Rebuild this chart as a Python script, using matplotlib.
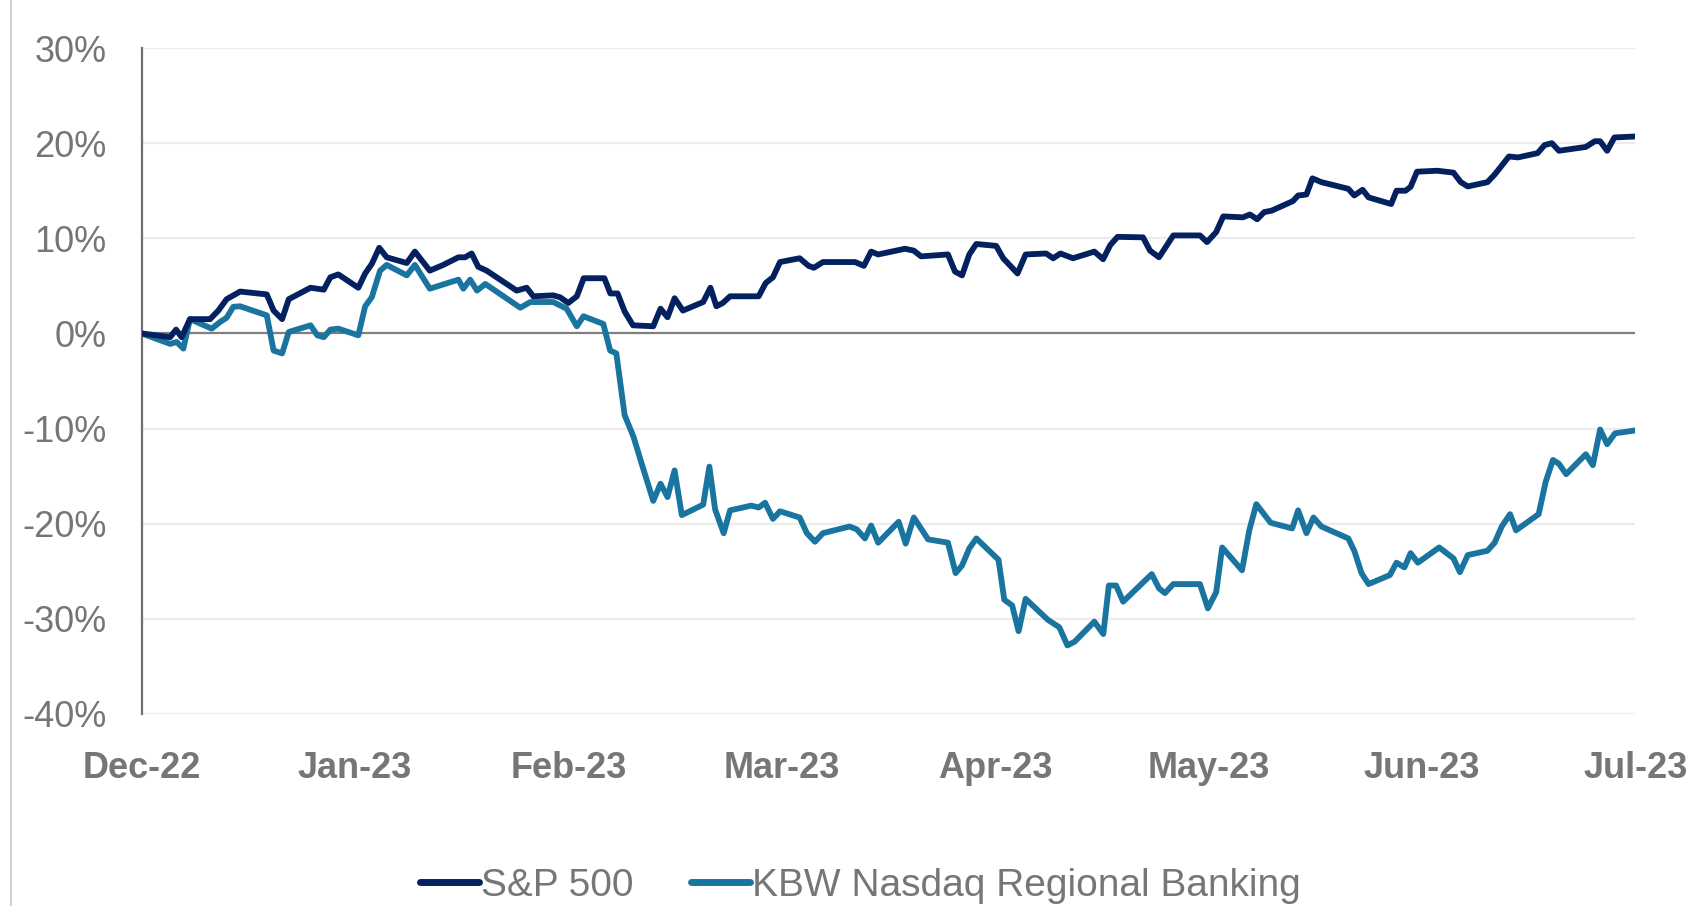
import matplotlib
matplotlib.use('Agg')
import matplotlib.pyplot as plt
from matplotlib.lines import Line2D

# x = months since Dec-22 (0 = Dec-22, 7 = Jul-23), y = cumulative return in %
months = ['Dec-22', 'Jan-23', 'Feb-23', 'Mar-23', 'Apr-23', 'May-23', 'Jun-23', 'Jul-23']

sp_x = [0, 0.134, 0.162, 0.188, 0.227, 0.321, 0.36, 0.399, 0.462, 0.587, 0.619, 0.659, 0.69,
        0.792, 0.854, 0.885, 0.922, 1.016, 1.048, 1.079, 1.114, 1.149, 1.243, 1.281, 1.351,
        1.414, 1.485, 1.516, 1.547, 1.578, 1.617, 1.758, 1.805, 1.836, 1.929, 1.961, 2.0,
        2.04, 2.072, 2.169, 2.197, 2.231, 2.264, 2.303, 2.398, 2.432, 2.465, 2.498, 2.537,
        2.632, 2.666, 2.694, 2.724, 2.758, 2.892, 2.925, 2.959, 2.992, 3.084, 3.126, 3.151,
        3.193, 3.344, 3.385, 3.419, 3.452, 3.578, 3.619, 3.653, 3.779, 3.812, 3.845, 3.879,
        3.912, 4.005, 4.038, 4.105, 4.143, 4.239, 4.272, 4.306, 4.365, 4.465, 4.506, 4.54,
        4.574, 4.693, 4.726, 4.768, 4.835, 4.96, 4.993, 5.036, 5.069, 5.161, 5.194, 5.228,
        5.261, 5.295, 5.395, 5.42, 5.459, 5.487, 5.529, 5.655, 5.683, 5.722, 5.75, 5.856,
        5.881, 5.923, 5.947, 5.977, 6.073, 6.148, 6.182, 6.215, 6.307, 6.341, 6.408, 6.45,
        6.542, 6.575, 6.609, 6.642, 6.768, 6.81, 6.835, 6.868, 6.902, 7.0]
sp_y = [0, -0.4, 0.4, -0.4, 1.5, 1.5, 2.4, 3.6, 4.4, 4.1, 2.4, 1.5, 3.6,
        4.8, 4.6, 5.9, 6.2, 4.8, 6.3, 7.3, 9.0, 8.0, 7.4, 8.6, 6.6,
        7.2, 8.0, 8.0, 8.4, 7.0, 6.6, 4.5, 4.8, 3.9, 4.0, 3.8, 3.2,
        3.9, 5.8, 5.8, 4.2, 4.2, 2.3, 0.85, 0.75, 2.6, 1.7, 3.7, 2.4,
        3.3, 4.8, 2.85, 3.2, 3.9, 3.9, 5.3, 5.9, 7.5, 7.9, 7.1, 6.9,
        7.5, 7.5, 7.1, 8.6, 8.3, 8.9, 8.7, 8.1, 8.3, 6.5, 6.1, 8.3,
        9.4, 9.2, 7.9, 6.3, 8.3, 8.4, 7.9, 8.4, 7.9, 8.6, 7.8, 9.3,
        10.15, 10.1, 8.7, 8.0, 10.3, 10.3, 9.6, 10.65, 12.3, 12.2, 12.5, 12.0,
        12.75, 12.9, 13.9, 14.5, 14.6, 16.3, 15.9, 15.2, 14.5, 15.1, 14.3, 13.6,
        15.0, 15.0, 15.4, 17.0, 17.1, 16.9, 15.9, 15.45, 15.9, 16.7, 18.6, 18.5,
        18.95, 19.8, 20.0, 19.2, 19.6, 20.2, 20.2, 19.2, 20.6, 20.7]

kbw_x = [0, 0.134, 0.165, 0.196, 0.227, 0.329, 0.368, 0.399, 0.43, 0.462, 0.587, 0.619,
         0.659, 0.69, 0.792, 0.824, 0.854, 0.885, 0.922, 1.016, 1.048, 1.079, 1.118, 1.149,
         1.243, 1.281, 1.351, 1.485, 1.508, 1.54, 1.572, 1.611, 1.775, 1.822, 1.929, 1.992,
         2.04, 2.071, 2.164, 2.196, 2.225, 2.264, 2.306, 2.348, 2.398, 2.432, 2.465, 2.498,
         2.532, 2.632, 2.661, 2.688, 2.728, 2.758, 2.858, 2.892, 2.922, 2.959, 2.992, 3.084,
         3.118, 3.156, 3.193, 3.318, 3.352, 3.39, 3.419, 3.452, 3.548, 3.581, 3.619, 3.686,
         3.779, 3.815, 3.845, 3.879, 3.912, 4.016, 4.043, 4.08, 4.11, 4.143, 4.247, 4.301,
         4.339, 4.373, 4.465, 4.507, 4.533, 4.567, 4.6, 4.734, 4.768, 4.796, 4.835, 4.96,
         4.997, 5.036, 5.064, 5.157, 5.191, 5.224, 5.291, 5.392, 5.42, 5.459, 5.492, 5.529,
         5.655, 5.683, 5.717, 5.75, 5.85, 5.881, 5.918, 5.947, 5.981, 6.081, 6.148, 6.178,
         6.215, 6.307, 6.341, 6.374, 6.413, 6.441, 6.547, 6.58, 6.614, 6.642, 6.676, 6.768,
         6.801, 6.835, 6.868, 6.905, 7.0]
kbw_y = [0, -1.1, -0.9, -1.6, 1.5, 0.5, 1.2, 1.65, 2.8, 2.85, 1.9, -1.8,
         -2.1, 0.15, 0.85, -0.2, -0.4, 0.4, 0.5, -0.2, 2.85, 3.8, 6.6, 7.2,
         6.1, 7.2, 4.7, 5.65, 4.7, 5.65, 4.5, 5.2, 2.7, 3.3, 3.3, 2.6,
         0.75, 1.8, 1.0, -1.8, -2.1, -8.6, -10.9, -14.0, -17.6, -15.8, -17.2, -14.4,
         -19.1, -18.0, -14.0, -18.5, -21.0, -18.6, -18.1, -18.3, -17.8, -19.5, -18.7, -19.35,
         -21.0, -21.9, -21.0, -20.3, -20.6, -21.55, -20.2, -22.0, -19.8, -22.1, -19.35, -21.65,
         -22.0, -25.2, -24.4, -22.6, -21.55, -23.8, -28.0, -28.6, -31.3, -27.9, -30.1, -30.9,
         -32.8, -32.4, -30.3, -31.6, -26.5, -26.5, -28.2, -25.3, -26.8, -27.3, -26.35, -26.35,
         -28.9, -27.2, -22.5, -24.9, -20.7, -17.95, -19.9, -20.5, -18.6, -21.0, -19.35, -20.3,
         -21.55, -22.85, -25.2, -26.35, -25.4, -24.1, -24.6, -23.1, -24.1, -22.5, -23.65, -25.1,
         -23.3, -22.85, -22.0, -20.3, -19.0, -20.7, -19.0, -15.6, -13.3, -13.7, -14.8, -12.7,
         -13.85, -10.1, -11.65, -10.5, -10.2]

navy = '#03215f'
teal = '#1a74a0'
grey = '#767676'

plt.rcParams['font.family'] = ['Liberation Sans', 'DejaVu Sans']

fig = plt.figure(figsize=(17.07, 9.06), dpi=100)
ax = fig.add_axes([0.0829, 0.212, 0.8751, 0.735])

for v in range(-40, 31, 10):
    if v != 0:
        ax.axhline(v, color='#ececec', lw=1.6, zorder=0)
ax.axhline(0, color='#7f7f7f', lw=1.6, zorder=1)

ax.plot(sp_x, sp_y, color=navy, lw=4.2, solid_joinstyle='round', zorder=3)
ax.plot(kbw_x, kbw_y, color=teal, lw=4.2, solid_joinstyle='round', zorder=2)

ax.set_xlim(0, 7)
ax.set_ylim(-40, 30)
ax.set_yticks(range(-40, 31, 10))
ax.set_yticklabels([f'{v}%' for v in range(-40, 31, 10)], fontsize=26, color=grey)
ax.set_xticks(range(len(months)))
ax.set_xticklabels(months, fontsize=26, fontweight='bold', color=grey)
ax.tick_params(axis='y', length=0, pad=25)
ax.tick_params(axis='x', length=0, pad=27)

for s in ['top', 'right', 'bottom']:
    ax.spines[s].set_visible(False)
ax.spines['left'].set_color('#6f6f6f')
ax.spines['left'].set_linewidth(1.6)

# thin frame line at the left edge of the picture
fig.add_artist(Line2D([0.0065, 0.0065], [0, 1], color='#c8c8c8', lw=1.2))

handles = [Line2D([], [], color=navy, lw=5, solid_capstyle='round'),
           Line2D([], [], color=teal, lw=5, solid_capstyle='round')]
fig.legend(handles, ['S&P 500', 'KBW Nasdaq Regional Banking'], loc='center',
           bbox_to_anchor=(0.504, 0.022), ncol=2, frameon=False, fontsize=28,
           labelcolor=grey, handlelength=1.5, handletextpad=0.05, columnspacing=1.5)

fig.savefig('out.png', dpi=100)
